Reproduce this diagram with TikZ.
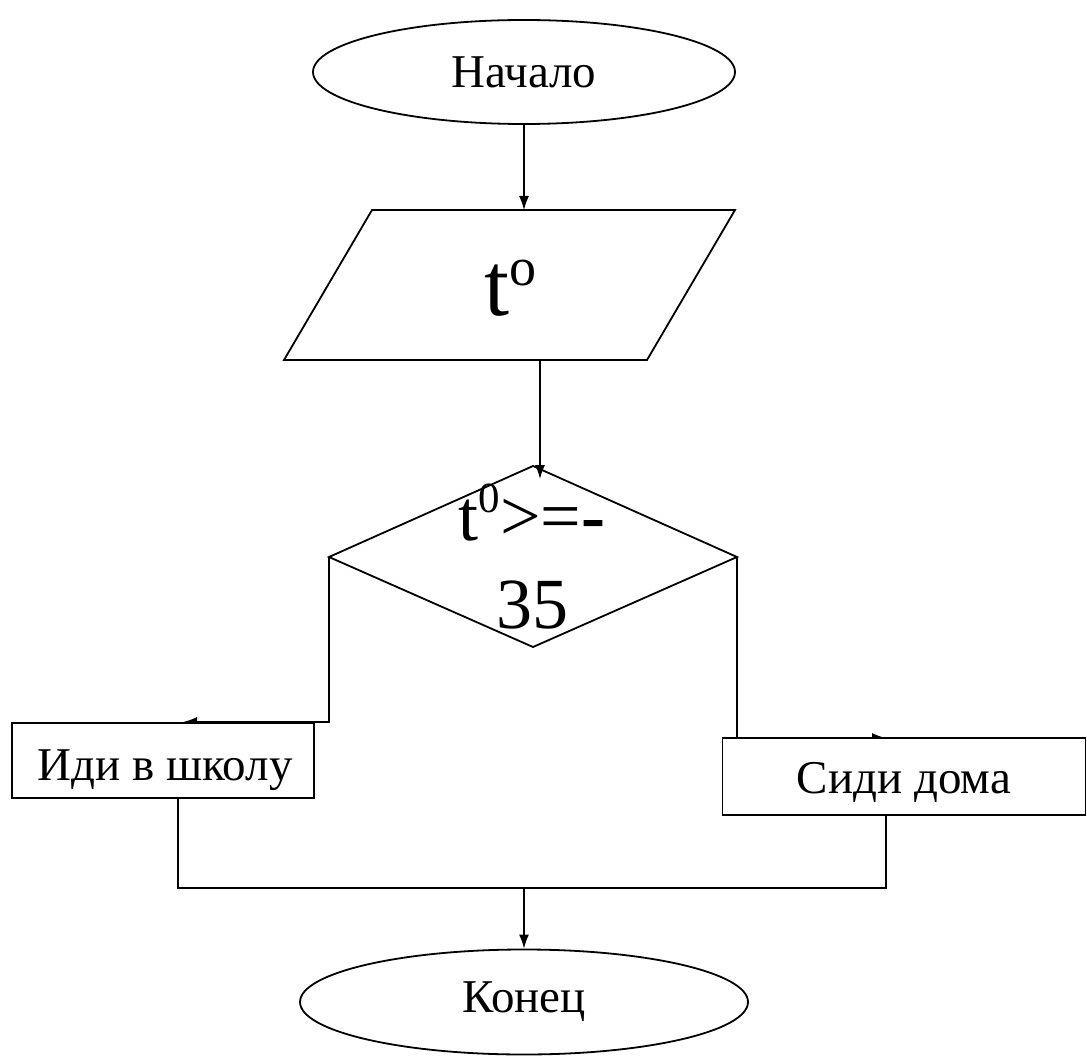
\documentclass[tikz,border=0pt]{standalone}
\usepackage{fontspec}
\setmainfont{Liberation Serif}
\usetikzlibrary{shapes.geometric,arrows.meta}

\tikzset{
  shape line/.style={line width=1.8pt},
  term/.style={shape line, draw, ellipse, fill=white, font=\fontsize{47}{56}\selectfont},
  actbox/.style={shape line, draw, rectangle, fill=white},
  boxtext/.style={inner sep=0pt, anchor=base, font=\fontsize{47}{56}\selectfont},
  bigtext/.style={inner sep=0pt, anchor=base, font=\fontsize{72}{86}\selectfont},
  conn/.style={line width=1.4pt},
  arr/.style={conn, -{Latex[length=14pt,width=10pt]}},
}
% raised small letter used as a degree mark
\newcommand{\degmark}[3]{\raisebox{#1}{\fontsize{#2}{#2}\selectfont #3}}

\begin{document}
\begin{tikzpicture}[x=1pt,y=-1pt]
\useasboundingbox (0,0) rectangle (1087,1059);

% start terminal
\node[term, minimum width=422pt, minimum height=104pt] (start) at (524,72) {Начало};

% input parallelogram
\coordinate (ioTop) at (524,210);
\coordinate (ioBot) at (540,360);
\draw[shape line] (284,360) -- (372,210) -- (735,210) -- (647,360) -- cycle;
\node[bigtext, font=\fontsize{90}{100}\selectfont] (io) at (510,316) {t\degmark{30pt}{54}{o}};

% decision diamond
\coordinate (decTop) at (540,479);
\coordinate (decL) at (329,557);
\coordinate (decR) at (737,557);
\draw[shape line] (decL) -- (533,466) -- (decR) -- (533,647) -- cycle;
\node[bigtext] (cond1) at (532,540) {t\degmark{28pt}{43}{0}>=\textbf{-}};
\node[bigtext] (cond2) at (532,628) {35};

% branches
\coordinate (tipL) at (183,722);
\coordinate (tipR) at (886,738);
\draw[arr] (start.south) -- (ioTop);
\draw[arr] (ioBot) -- (decTop);
\draw[arr] (decL) |- (tipL);
\draw[arr] (decR) |- (tipR);

% action boxes
\node[actbox, minimum width=302pt, minimum height=75pt] (goL) at (163,760.5) {};
\node[boxtext] (goLtext) at (165,780) {Иди в школу};
\node[actbox, minimum width=363pt, minimum height=77pt] (goR) at (904,776.5) {};
\node[boxtext] (goRtext) at (904,793) {Сиди дома};

% merge and end
\coordinate (mergeL) at (178,888);
\coordinate (mergeR) at (886,888);
\coordinate (mergeC) at (524,888);
\draw[conn] (goL.south -| mergeL) -- (mergeL) -- (mergeR) -- (goR.south -| mergeR);
\node[term, minimum width=448pt, minimum height=105pt] (stop) at (524,1002) {Конец};
\draw[arr] (mergeC) -- (stop.north);
\end{tikzpicture}
\end{document}
